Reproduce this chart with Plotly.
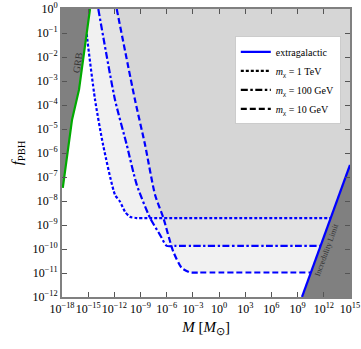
import numpy as np
import plotly.graph_objects as go

# ---- data (log10 values) ----
# m_chi = 1 TeV (dotted)
tev_logM = [-15.48, -15.10, -14.22, -13.30, -11.93, -11.35, -10.78, -10.21, -9.41, -8.5, 12.79]
tev_logf = [0.0, -1.27, -3.77, -5.65, -7.74, -8.03, -8.45, -8.66, -8.71, -8.71, -8.71]
# m_chi = 100 GeV (dash-dot)
gev100_logM = [-13.84, -11.93, -10.59, -9.44, -7.92, -6.77, -6.00, -5.0, 11.63]
gev100_logf = [0.0, -3.78, -5.65, -7.32, -8.70, -9.41, -9.87, -9.87, -9.87]
# m_chi = 10 GeV (dashed)
gev10_logM = [-11.73, -9.64, -8.49, -7.34, -6.39, -5.25, -4.28, -3.33, -2.3, 10.52]
gev10_logf = [0.0, -3.78, -5.65, -7.74, -8.70, -10.11, -10.79, -10.98, -10.98, -10.98]
# GRB bound (green)
grb_logM = [-17.91, -16.85, -16.05, -15.18, -14.79]
grb_logf = [-7.45, -4.61, -3.36, -1.15, 0.0]
# extragalactic / incredulity limit (solid blue)
inc_logM = [9.5, 15.0]
inc_logf = [-12.0, -6.5]

xtick_exp = list(range(-18, 16, 3))
ytick_exp = list(range(-12, 1))

def sup(e):
    s = str(e).replace("-", "\u2212")
    return f"10<sup>{s}</sup>"

SERIF = "Liberation Serif"
BLUE = "#0000ff"
GRAY = "#808080"
FILL = "rgba(0,0,0,0.055)"

fig = go.Figure()

# translucent exclusion fills above each curve
for lm, lf in [(tev_logM, tev_logf), (gev100_logM, gev100_logf), (gev10_logM, gev10_logf)]:
    px = list(lm) + [15.0, 15.0]
    py = list(lf) + [lf[-1], 0.0]
    fig.add_trace(go.Scatter(x=10 ** np.array(px), y=10 ** np.array(py), mode="lines",
                             fill="toself", fillcolor=FILL, line=dict(width=0),
                             showlegend=False, hoverinfo="skip"))

# dashed curves
styles = [(tev_logM, tev_logf, "3px,2px"),
          (gev100_logM, gev100_logf, "7px,2.5px,2.5px,2.5px"),
          (gev10_logM, gev10_logf, "6px,3px")]
for lm, lf, d in styles:
    fig.add_trace(go.Scatter(x=10 ** np.array(lm), y=10 ** np.array(lf), mode="lines",
                             line=dict(color=BLUE, width=2.2, dash=d, shape="spline", smoothing=0.6),
                             showlegend=False, hoverinfo="skip"))

# GRB region
gx = grb_logM + [-18.0, -18.0]
gy = grb_logf + [0.0, grb_logf[0]]
fig.add_trace(go.Scatter(x=10 ** np.array(gx), y=10 ** np.array(gy), mode="lines",
                         fill="toself", fillcolor=GRAY, line=dict(width=0),
                         showlegend=False, hoverinfo="skip"))
fig.add_trace(go.Scatter(x=10 ** np.array(grb_logM), y=10 ** np.array(grb_logf), mode="lines",
                         line=dict(color="#00aa00", width=2.2),
                         showlegend=False, hoverinfo="skip"))

# incredulity region
ix = inc_logM + [15.0]
iy = inc_logf + [-12.0]
fig.add_trace(go.Scatter(x=10 ** np.array(ix), y=10 ** np.array(iy), mode="lines",
                         fill="toself", fillcolor=GRAY, line=dict(width=0),
                         showlegend=False, hoverinfo="skip"))
fig.add_trace(go.Scatter(x=10 ** np.array(inc_logM), y=10 ** np.array(inc_logf), mode="lines",
                         line=dict(color=BLUE, width=2.2),
                         name="extragalactic", showlegend=True, hoverinfo="skip"))

# legend-only entries
for name, d in [("<i>m</i><sub>χ</sub> = 1 TeV", "3px,2px"),
                ("<i>m</i><sub>χ</sub> = 100 GeV", "7px,2.5px,2.5px,2.5px"),
                ("<i>m</i><sub>χ</sub> = 10 GeV", "6px,3px")]:
    fig.add_trace(go.Scatter(x=[None], y=[None], mode="lines",
                             line=dict(color="black", width=2.2, dash=d), name=name))

fig.add_annotation(x=-16.28, y=-2.25, xref="x", yref="y", text="GRB", showarrow=False,
                   textangle=-81, font=dict(family=SERIF, size=10, color="#333"))
fig.add_annotation(x=12.3, y=-10.0, xref="x", yref="y", text="Incredulity Limit",
                   showarrow=False, textangle=-70,
                   font=dict(family=SERIF, size=8, color="#333"))

axis_common = dict(type="log", showgrid=False, zeroline=False, showline=True,
                   linecolor=GRAY, linewidth=2, mirror="ticks", ticks="inside",
                   ticklen=5, tickcolor="#555", tickwidth=1, automargin=False,
                   tickfont=dict(family=SERIF, size=12, color="black"))

fig.update_xaxes(range=[-18, 15], tickvals=[10.0 ** e for e in xtick_exp],
                 ticktext=[sup(e) for e in xtick_exp], tickangle=0,
                 title=dict(text="<i>M</i> [<i>M</i><sub>⊙</sub>]",
                            font=dict(family=SERIF, size=15, color="black"), standoff=6),
                 **axis_common)
fig.update_yaxes(range=[-12, 0], tickvals=[10.0 ** e for e in ytick_exp],
                 ticktext=[sup(e) for e in ytick_exp],
                 title=dict(text="<i>f</i><sub>PBH</sub>",
                            font=dict(family=SERIF, size=15, color="black"), standoff=6),
                 **axis_common)

fig.update_layout(
    width=361, height=349,
    margin=dict(l=62, r=11, t=9, b=52),
    plot_bgcolor="white", paper_bgcolor="white",
    legend=dict(x=0.6, y=0.905, xanchor="left", yanchor="top",
                bgcolor="white", bordercolor="#cccccc", borderwidth=1,
                font=dict(family=SERIF, size=10, color="black"),
                tracegroupgap=0, itemwidth=30),
    font=dict(family=SERIF),
)

fig.write_html("out.html", config={"displayModeBar": False},
               post_script="document.body.style.margin='0px';")
